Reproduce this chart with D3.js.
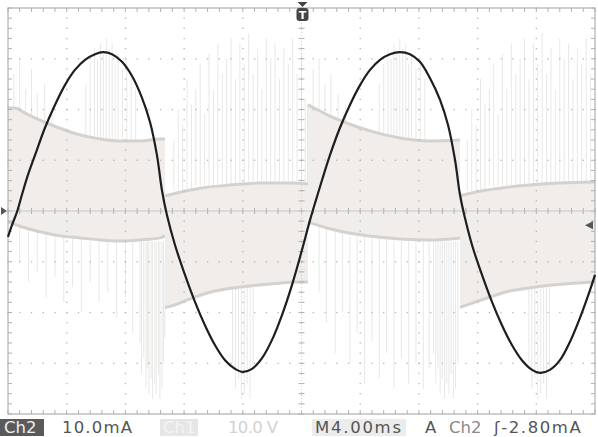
<!DOCTYPE html>
<html><head><meta charset="utf-8">
<script src="https://cdn.jsdelivr.net/npm/d3@7"></script>
<style>
html,body{margin:0;padding:0;background:#fff;}
svg{display:block;}
text{font-family:"DejaVu Sans","Liberation Sans",sans-serif;}
</style></head>
<body><svg id="c" width="598" height="437"></svg>
<script>
// ---- data (time in ms, Ch2 current in mA, Ch1 voltage in V) ----
const timeDivMs = 4;          // M 4.00ms / div
const ch2PerDiv = 10;         // 10.0 mA / div
const ch1PerDiv = 10;         // 10.0 V / div
const triggerLevel = -2.8;    // mA
const triggerTime = 20;       // ms

const ch2Time = [0,0.27,0.61,0.95,1.36,1.84,2.52,3.20,3.88,4.56,5.25,5.93,6.47,7.09,7.77,8.45,9.13,9.68,10.15,10.49,10.83,11.38,12.06,12.74,13.42,14.10,14.79,15.47,16.01,16.63,17.31,17.99,18.67,19.35,20.03,20.58,20.99,21.40,21.94,22.62,23.30,23.99,24.67,25.35,26.03,26.71,27.39,28.07,28.75,29.44,29.98,30.46,30.80,31.14,31.62,32.30,32.98,33.66,34.34,35.02,35.71,36.25,36.93,37.61,38.29,38.97,39.66,40.0];
const ch2Current = [-5.1,-2.8,-0.2,3.2,7.1,11.0,16.4,20.9,24.8,27.8,29.8,30.9,31.3,30.9,29.4,26.6,22.3,17.5,11.0,4.1,-0.8,-6.7,-12.6,-17.9,-22.5,-26.4,-29.4,-31.1,-31.7,-31.1,-29.0,-25.4,-20.5,-14.6,-7.7,-1.8,2.2,6.1,11.0,16.4,20.9,24.8,27.8,29.8,30.9,31.3,30.9,29.4,26.2,21.9,17.0,10.1,3.2,-1.4,-6.7,-12.6,-17.9,-22.5,-26.4,-29.4,-31.3,-31.9,-31.3,-29.4,-25.8,-21.1,-15.6,-12.6];

// Ch1 envelope, one array pair per half cycle: [t, V]
const ch1UpperA = [[0,20.3],[0.48,20.3],[1.16,19.3],[2.18,17.9],[3.54,16.3],[4.91,15.0],[6.27,14.2],[7.63,13.8],[8.99,13.8],[10.36,14.2],[10.70,14.2]];
const ch1LowerA = [[0,-2.2],[0.82,-3.0],[2.18,-4.1],[3.54,-4.9],[4.91,-5.3],[6.27,-5.7],[7.63,-5.9],[8.99,-5.7],[10.36,-5.3],[10.70,-4.9]];
const ch1UpperB = [[10.70,3.0],[11.72,3.7],[13.08,4.5],[15.13,5.1],[17.17,5.5],[19.22,5.5],[20.44,5.3]];
const ch1LowerB = [[10.70,-19.0],[11.38,-18.5],[12.40,-17.3],[13.76,-16.0],[15.81,-15.0],[17.85,-14.4],[19.90,-14.0],[20.44,-14.0]];
const ch1UpperC = [[20.44,20.9],[21.12,19.9],[21.94,18.7],[23.30,17.1],[24.67,15.8],[26.71,14.4],[28.75,13.8],[30.80,14.0]];
const ch1LowerC = [[20.44,-2.2],[21.94,-3.5],[23.99,-4.7],[26.71,-5.5],[28.75,-5.7],[30.80,-5.3]];
const ch1UpperD = [[30.80,3.0],[32.16,3.9],[33.52,4.5],[35.57,5.1],[37.61,5.5],[40,5.7]];
const ch1LowerD = [[30.80,-19.0],[31.48,-18.3],[32.50,-17.3],[33.87,-16.0],[35.91,-15.0],[37.95,-14.4],[40,-14.0]];

// Ch1 switching spikes: [t, fromV, toV]
const ch1Spikes = [
 [0.4,19,27],[0.8,19,30],[1.2,19,24],[1.6,18,28],[2.0,18,23],[2.5,17,25],[3.0,16,21],
 [5.3,14,25],[5.6,14,29],[5.9,14,32],[6.1,14,30],[6.3,14,33],[6.5,14,31],[6.7,14,34],[6.9,14,32],[7.1,14,33],[7.3,14,29],[7.5,14,31],[7.8,14,28],[8.1,14,30],[8.4,14,26],[8.7,14,24],
 [0.8,-3,-10],[1.4,-3,-14],[2.0,-4,-12],[2.6,-4,-17],[3.2,-5,-13],[3.8,-5,-18],[4.4,-5,-15],[5.0,-5,-20],[5.6,-6,-14],[6.2,-6,-18],[6.8,-6,-16],[7.4,-6,-21],[8.0,-6,-17],[8.5,-6,-24],
 [9.0,-6,-26],[9.1,-6,-32],[9.25,-6,-29],[9.4,-6,-35],[9.5,-6,-31],[9.6,-6,-36],[9.75,-6,-33],[9.85,-6,-37],[10.0,-6,-34],[10.1,-6,-36],[10.25,-6,-32],[10.35,-6,-37],[10.5,-6,-35],[10.6,-6,-30],[10.7,-10,-25],
 [11.3,4,14],[11.6,4,20],[11.9,4,17],[12.2,4,26],[12.5,4,21],[12.8,5,24],[13.1,5,29],[13.4,5,19],[13.7,5,31],[14.0,5,24],[14.3,5,33],[14.6,5,27],[14.9,5,30],[15.2,5,34],[15.5,5,26],[15.8,5,33],[16.1,5,29],[16.4,5,35],[16.7,5,27],[17.0,5,32],[17.3,5,24],[17.6,5,34],[17.9,5,30],[18.2,5,33],[18.5,5,26],[18.8,5,32],[19.1,5,29],[19.4,5,34],[19.7,5,27],[20.0,5,31],
 [15.3,-15,-30],[15.5,-15,-35],[15.7,-15,-33],[15.9,-15,-37],[16.1,-15,-36],[16.3,-15,-34],[16.5,-15,-37],[16.7,-15,-31],
 [20.25,-3,22],[20.4,-3,21],[20.55,-2,20],
 [20.8,19,28],[21.2,19,30],[21.6,18,25],[22.0,18,27],[22.5,17,23],[23.0,16,21],
 [25.3,14,25],[25.6,14,29],[25.9,14,32],[26.1,14,30],[26.3,14,33],[26.5,14,31],[26.7,14,34],[26.9,14,32],[27.1,14,33],[27.3,14,29],[27.5,14,31],[27.8,14,28],[28.1,14,30],[28.4,14,26],
 [21.2,-3,-16],[21.7,-3,-22],[22.3,-4,-28],[22.8,-4,-20],[23.3,-5,-30],[23.8,-5,-24],[24.3,-5,-34],[24.8,-5,-26],[25.3,-5,-33],[25.8,-5,-28],[26.3,-6,-35],[26.8,-6,-29],[27.3,-6,-34],[27.8,-6,-30],[28.3,-6,-35],[28.7,-6,-31],
 [29.0,-6,-28],[29.15,-6,-34],[29.3,-6,-31],[29.45,-6,-36],[29.6,-6,-33],[29.75,-6,-37],[29.9,-6,-34],[30.05,-6,-36],[30.2,-6,-32],[30.35,-6,-37],[30.5,-6,-35],[30.65,-6,-30],
 [31.3,4,14],[31.6,4,20],[31.9,4,17],[32.2,4,26],[32.5,4,21],[32.8,5,24],[33.1,5,29],[33.4,5,19],[33.7,5,31],[34.0,5,24],[34.3,5,33],[34.6,5,27],[34.9,5,30],[35.2,5,34],[35.5,5,26],[35.8,5,33],[36.1,5,29],[36.4,5,35],[36.7,5,27],[37.0,5,32],[37.3,5,24],[37.6,5,34],[37.9,5,30],[38.2,5,33],[38.5,5,26],[38.8,5,32],[39.1,5,29],[39.4,5,34],[39.7,5,27],
 [35.5,-15,-30],[35.7,-15,-35],[35.9,-15,-33],[36.1,-15,-37],[36.3,-15,-36],[36.5,-15,-34],[36.7,-15,-37],[36.9,-15,-31]
];

// readout texts
const readLeft = ["Ch2","10.0mA","Ch1","10.0 V"];
const readRight = ["M4.00ms","A","Ch2","\u0283-2.80mA"];

// ---- drawing ----
const svg = d3.select("#c");
const L=8, R=595, T=8, B=414;
const x = d3.scaleLinear().domain([0, 10*timeDivMs]).range([L,R]);
const y2 = d3.scaleLinear().domain([-4*ch2PerDiv, 4*ch2PerDiv]).range([B,T]);
const y1 = d3.scaleLinear().domain([-4*ch1PerDiv, 4*ch1PerDiv]).range([B,T]);

const g = svg.append("g");

// Ch1 spikes (behind the bands)
g.selectAll("line.sp").data(ch1Spikes).join("line").attr("class","sp")
 .attr("x1",d=>x(d[0])).attr("x2",d=>x(d[0]))
 .attr("y1",d=>y1(d[1])).attr("y2",d=>y1(d[2]))
 .attr("stroke","#d4d2d0").attr("stroke-opacity",0.5).attr("stroke-width",1);

// Ch1 bands
const area = d3.area().x(d=>x(d[0])).y0(d=>y1(d[1])).y1(d=>y1(d[2])).curve(d3.curveMonotoneX);
const line = d3.line().x(d=>x(d[0])).y(d=>y1(d[1])).curve(d3.curveMonotoneX);
function band(up, lo){
  const lv = d3.scaleLinear().domain(lo.map(d=>d[0])).range(lo.map(d=>d[1]));
  const pts = up.map(d=>[d[0], lv(d[0]), d[1]]);
  g.append("path").datum(pts).attr("d",area).attr("fill","#f0edeb");
  g.append("path").datum(up).attr("d",line).attr("fill","none").attr("stroke","#d4d1cf").attr("stroke-width",3);
  g.append("path").datum(lo).attr("d",line).attr("fill","none").attr("stroke","#d4d1cf").attr("stroke-width",3);
}
band(ch1UpperA, ch1LowerA);
band(ch1UpperB, ch1LowerB);
band(ch1UpperC, ch1LowerC);
band(ch1UpperD, ch1LowerD);

// graticule
const gr = svg.append("g").attr("fill","#b5b5b5");
const minorX = d3.range(0, 10*timeDivMs+0.001, timeDivMs/5);
const minorY = d3.range(-4*ch2PerDiv, 4*ch2PerDiv+0.001, ch2PerDiv/5);
const majorX = d3.range(timeDivMs, 10*timeDivMs-0.001, timeDivMs);
const majorY = d3.range(-3*ch2PerDiv, 4*ch2PerDiv-0.001, ch2PerDiv);
majorX.forEach(t=>{ minorY.forEach(v=>{ gr.append("rect").attr("x",x(t)-0.6).attr("y",y2(v)-0.6).attr("width",1.3).attr("height",1.3);});});
majorY.forEach(v=>{ minorX.forEach(t=>{ gr.append("rect").attr("x",x(t)-0.6).attr("y",y2(v)-0.6).attr("width",1.3).attr("height",1.3);});});
const tk = svg.append("g").attr("stroke","#b0b0b0").attr("stroke-width",1);
minorX.forEach(t=>{
  tk.append("line").attr("x1",x(t)).attr("x2",x(t)).attr("y1",y2(0)-3).attr("y2",y2(0)+3);
  tk.append("line").attr("x1",x(t)).attr("x2",x(t)).attr("y1",T).attr("y2",T+4);
  tk.append("line").attr("x1",x(t)).attr("x2",x(t)).attr("y1",B).attr("y2",B-4);
});
minorY.forEach(v=>{
  tk.append("line").attr("x1",x(20)-3).attr("x2",x(20)+3).attr("y1",y2(v)).attr("y2",y2(v));
  tk.append("line").attr("x1",L).attr("x2",L+4).attr("y1",y2(v)).attr("y2",y2(v));
  tk.append("line").attr("x1",R).attr("x2",R-4).attr("y1",y2(v)).attr("y2",y2(v));
});
tk.append("line").attr("x1",L).attr("x2",R).attr("y1",y2(0)).attr("y2",y2(0)).attr("stroke","#c8c8c8");
tk.append("line").attr("x1",x(20)).attr("x2",x(20)).attr("y1",T).attr("y2",B).attr("stroke","#d0d0d0").attr("stroke-dasharray","1,2");
svg.append("rect").attr("x",L).attr("y",T).attr("width",R-L).attr("height",B-T).attr("fill","none").attr("stroke","#b0b0b0").attr("stroke-width",1.2);

// Ch2 trace
svg.append("path").datum(d3.zip(ch2Time, ch2Current))
 .attr("d", d3.line().x(d=>x(d[0])).y(d=>y2(d[1])).curve(d3.curveCatmullRom))
 .attr("fill","none").attr("stroke","#1e1e1e").attr("stroke-width",2.2);

// markers
const tx = x(triggerTime)+1;
svg.append("path").attr("d",`M${tx-5},2 L${tx+5},2 L${tx},7 Z`).attr("fill","#444");
svg.append("rect").attr("x",tx-6).attr("y",8).attr("width",12).attr("height",13).attr("rx",3).attr("fill","#444");
svg.append("text").attr("x",tx).attr("y",19).attr("text-anchor","middle").attr("fill","#fff").attr("font-size",11).attr("font-weight","bold").text("T");
const ty = y2(triggerLevel);
svg.append("path").attr("d",`M${R-10},${ty} L${R-2},${ty-4} L${R-2},${ty+4} Z`).attr("fill","#555");
svg.append("path").attr("d",`M1,${y2(0)-4} L7,${y2(0)} L1,${y2(0)+4} Z`).attr("fill","#555");

// readout bar
const fs = 16.5;
function txt(s, x0, w, col, ls){
  const t = svg.append("text").attr("x",x0).attr("y",433).attr("font-size",fs).attr("fill",col).text(s);
  if (w) t.attr("textLength",w).attr("lengthAdjust","spacing");
  if (ls) t.attr("letter-spacing",ls);
}
svg.append("rect").attr("x",0).attr("y",419).attr("width",44).attr("height",17).attr("fill","#5a5a5a");
txt(readLeft[0], 4, 0, "#eeeeee");
txt(readLeft[1], 62, 70, "#555555");
svg.append("rect").attr("x",160).attr("y",419).attr("width",38).attr("height",17).attr("fill","#e6e6e6");
txt(readLeft[2], 163, 0, "#f4f4f4");
txt(readLeft[3], 228, 50, "#d2d2d2");
svg.append("rect").attr("x",312).attr("y",419).attr("width",94).attr("height",17).attr("fill","#ececec");
txt(readRight[0], 315, 86, "#555555");
txt(readRight[1], 425, 0, "#555555");
txt(readRight[2], 449, 0, "#8a8a8a");
txt(readRight[3], 494, 0, "#555555", 1.6);
</script></body></html>
